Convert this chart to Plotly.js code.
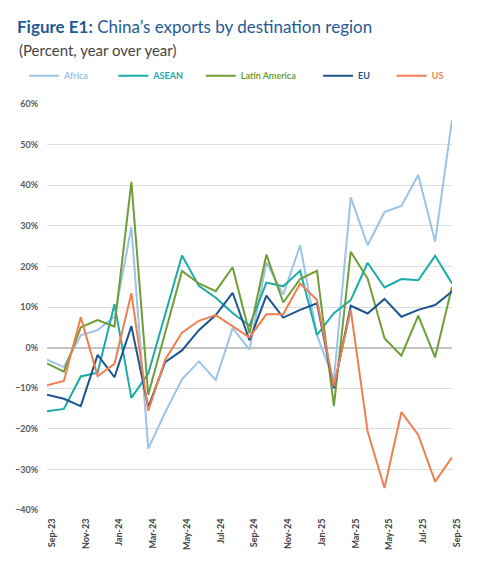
<!DOCTYPE html>
<html>
<head>
<meta charset="utf-8">
<script src="https://cdn.plot.ly/plotly-3.0.1.min.js"></script>
<style>html,body{margin:0;padding:0;background:#fff;}#chart{width:479px;height:563px;}</style>
</head>
<body>
<div id="chart"></div>
<script>
const months = ["Sep-23","Oct-23","Nov-23","Dec-23","Jan-24","Feb-24","Mar-24","Apr-24","May-24","Jun-24","Jul-24","Aug-24","Sep-24","Oct-24","Nov-24","Dec-24","Jan-25","Feb-25","Mar-25","Apr-25","May-25","Jun-25","Jul-25","Aug-25","Sep-25"];
const tickLabels = ["Sep-23","Nov-23","Jan-24","Mar-24","May-24","Jul-24","Sep-24","Nov-24","Jan-25","Mar-25","May-25","Jul-25","Sep-25"];
const seriesNames = ["Africa","ASEAN","Latin America","EU","US"];
const africa = [-3, -4.8, 3, 4.3, 7.6, 29.7, -24.9, -16, -7.8, -3.4, -8, 4.8, -0.5, 21, 13, 25.2, 3, -8, 37, 25.2, 33.4, 34.9, 42.5, 26.1, 56.1];
const asean = [-15.7, -15.1, -7.1, -6.2, 10.7, -12.4, -6.4, 8, 22.7, 15.2, 12.3, 8.5, 5.4, 16, 15.1, 18.9, 3.1, 8.5, 11.7, 20.9, 14.8, 16.9, 16.6, 22.6, 15.8];
const latinAmerica = [-3.9, -5.9, 5, 6.8, 5.2, 40.8, -11.6, 3.5, 18.9, 15.8, 13.9, 19.8, 3.5, 22.9, 11.1, 16.9, 18.9, -14.4, 23.6, 17, 2.3, -2, 7.9, -2.4, 15];
const eu = [-11.6, -12.6, -14.4, -1.8, -7.3, 5.3, -14.7, -3.6, -0.7, 4.3, 8, 13.5, 1.8, 12.8, 7.4, 9.3, 10.9, -10, 10.3, 8.4, 12, 7.6, 9.3, 10.5, 13.8];
const us = [-9.3, -8.2, 7.5, -7, -4, 13.4, -15.6, -3, 3.7, 6.6, 8, 5.2, 2.5, 8.2, 8.2, 15.8, 11.7, -9.5, 9.3, -20.7, -34.6, -15.9, -21.5, -33, -27];

const colors = ["#9dc3e6", "#1aaca8", "#6f9e37", "#1c5590", "#f07f4f"];
const values = [africa, asean, latinAmerica, eu, us];
const legendIds = ["legend", "legend2", "legend3", "legend4", "legend5"];
const legendX = [24, 113.3, 200.7, 318, 391.7];

const W = 479, H = 563;
const FONT = "Lato, 'Open Sans', sans-serif";

const traces = values.map((v, i) => ({
  type: "scatter",
  mode: "lines",
  x: months,
  y: v,
  name: seriesNames[i],
  line: {color: colors[i], width: 2},
  legend: legendIds[i],
  hoverinfo: "skip"
}));

const layout = {
  width: W, height: H,
  margin: {l: 47, r: 27, t: 104, b: 53},
  paper_bgcolor: "#ffffff",
  plot_bgcolor: "#ffffff",
  font: {family: FONT},
  showlegend: true,
  title: {
    text: "<b>Figure E1:</b> China\u2019s exports by destination region",
    font: {family: FONT, size: 17, color: "#1f5a94"},
    xref: "container", x: 17 / W, xanchor: "left",
    yref: "container", y: 1 - 26.7 / H, yanchor: "middle"
  },
  annotations: [{
    text: "(Percent, year over year)",
    font: {family: FONT, size: 15, color: "#454545"},
    xref: "paper", x: (17 - 47) / 405, xanchor: "left",
    yref: "paper", y: (510 - 50) / 406, yanchor: "middle",
    showarrow: false
  }],
  xaxis: {
    type: "category",
    range: [0, months.length - 1],
    tickvals: tickLabels,
    ticktext: tickLabels,
    tickangle: -90,
    tickfont: {family: FONT, size: 9, color: "#404040", weight: 700},
    showgrid: false,
    zeroline: false,
    showline: false,
    ticks: "outside", ticklen: 4, tickcolor: "rgba(0,0,0,0)",
    ticklabelshift: 5,
    fixedrange: true
  },
  yaxis: {
    range: [-40, 60],
    dtick: 10,
    tick0: 0,
    ticksuffix: "%",
    tickfont: {family: FONT, size: 9, color: "#595959", weight: 700},
    gridcolor: "#dcdcdc",
    gridwidth: 1,
    zeroline: true,
    zerolinecolor: "#c4c4c4",
    zerolinewidth: 2,
    showline: false,
    ticks: "outside", ticklen: 6, tickcolor: "rgba(0,0,0,0)",
    fixedrange: true
  }
};

legendIds.forEach((id, i) => {
  layout[id] = {
    orientation: "h",
    xref: "container", yref: "container",
    x: legendX[i] / W, xanchor: "left",
    y: 1 - 75.7 / H, yanchor: "middle",
    font: {family: FONT, size: 9, color: colors[i], weight: 700},
    bgcolor: "rgba(0,0,0,0)",
    borderwidth: 0,
    itemwidth: 30
  };
});

Plotly.newPlot("chart", traces, layout, {displayModeBar: false, staticPlot: true});
</script>
</body>
</html>
